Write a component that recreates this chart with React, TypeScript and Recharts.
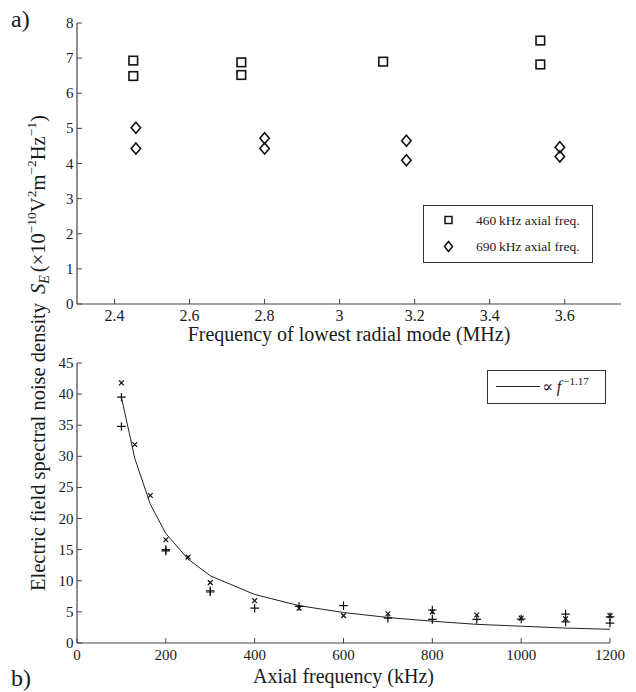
import React from "react";
import { Legend, Scatter, ScatterChart, XAxis, YAxis } from "recharts";

const FONT = '"Liberation Serif", "DejaVu Serif", serif';
const INK = "#1a1a1a";
const AXIS = "#444";

// panel a) noise vs lowest radial mode frequency (MHz), S_E in 1e-10 V^2 m^-2 Hz^-1
const squareFreq = [2.45, 2.45, 2.738, 2.738, 3.116, 3.535, 3.535];
const squareSE = [6.93, 6.49, 6.88, 6.52, 6.9, 7.5, 6.82];
const diamondFreq = [2.457, 2.457, 2.8, 2.8, 3.178, 3.178, 3.587, 3.587];
const diamondSE = [5.02, 4.43, 4.72, 4.43, 4.65, 4.09, 4.46, 4.2];
const radialTicks = [2.4, 2.6, 2.8, 3, 3.2, 3.4, 3.6];
const seTicksA = [0, 1, 2, 3, 4, 5, 6, 7, 8];

// panel b) noise vs axial frequency (kHz)
const crossFreq = [100, 130, 165, 200, 250, 300, 400, 500, 600, 700, 800, 900, 1000, 1100, 1200];
const crossSE = [41.8, 31.9, 23.7, 16.6, 13.8, 9.7, 6.8, 5.6, 4.4, 4.7, 5.0, 4.5, 4.0, 3.9, 4.4];
const plusFreq = [100, 100, 200, 200, 300, 300, 400, 500, 600, 700, 800, 800, 900, 1000, 1100, 1100, 1200, 1200];
const plusSE = [39.5, 34.8, 15.0, 14.8, 8.4, 8.2, 5.6, 5.9, 6.0, 4.0, 5.3, 3.8, 3.8, 3.85, 4.65, 3.4, 4.2, 3.2];
const fitFreq = [100, 130, 165, 200, 250, 300, 400, 500, 600, 700, 800, 900, 1000, 1100, 1200];
const fitSE = [39.5, 29.7, 22.3, 17.6, 13.5, 10.8, 7.8, 6.0, 4.9, 4.1, 3.5, 3.0, 2.7, 2.4, 2.2];
const axialTicks = [0, 200, 400, 600, 800, 1000, 1200];
const seTicksB = [0, 5, 10, 15, 20, 25, 30, 35, 40, 45];

const zip = (xs: number[], ys: number[]) => xs.map((x, i) => ({ x, y: ys[i] }));

const squares = zip(squareFreq, squareSE);
const diamonds = zip(diamondFreq, diamondSE);
const crosses = zip(crossFreq, crossSE);
const pluses = zip(plusFreq, plusSE);
const fit = zip(fitFreq, fitSE);

const fmt = (v: number) => String(v);
const serif = { fontFamily: FONT };

// ticks point inward, so draw them ourselves
function XTick(props: any) {
  const { x, y, payload, size = 15 } = props;
  return (
    <g>
      <line x1={x} y1={y} x2={x} y2={y - 5} stroke={AXIS} strokeWidth={1} />
      <text x={x} y={y + 17} textAnchor="middle" fontSize={size} fill={INK} style={serif}>
        {fmt(payload.value)}
      </text>
    </g>
  );
}

function YTick(props: any) {
  const { x, y, payload } = props;
  return (
    <g>
      <line x1={x} y1={y} x2={x + 5} y2={y} stroke={AXIS} strokeWidth={1} />
      <text x={x - 3.5} y={y + 5} textAnchor="end" fontSize={15} fill={INK} style={serif}>
        {fmt(payload.value)}
      </text>
    </g>
  );
}

const Square = ({ cx, cy }: any) => (
  <rect x={cx - 4.3} y={cy - 4.3} width={8.6} height={8.6} fill="none" stroke="#111" strokeWidth={1.6} />
);
const Diamond = ({ cx, cy }: any) => (
  <path
    d={`M${cx},${cy - 5.5}L${cx + 4.7},${cy}L${cx},${cy + 5.5}L${cx - 4.7},${cy}Z`}
    fill="none"
    stroke="#111"
    strokeWidth={1.6}
  />
);
const Cross = ({ cx, cy }: any) => (
  <path d={`M${cx - 2.4},${cy - 2.4}L${cx + 2.4},${cy + 2.4}M${cx - 2.4},${cy + 2.4}L${cx + 2.4},${cy - 2.4}`} stroke="#111" strokeWidth={1.2} />
);
const Plus = ({ cx, cy }: any) => (
  <path d={`M${cx - 4.3},${cy}L${cx + 4.3},${cy}M${cx},${cy - 4.3}L${cx},${cy + 4.3}`} stroke="#111" strokeWidth={1.2} />
);
const Nothing = () => <g />;

function LegendA() {
  return (
    <div style={{ width: 170, height: 58, border: "1.3px solid #333", boxSizing: "border-box", background: "#fff" }}>
      <svg width={168} height={56} style={{ display: "block" }}>
        <rect x={21} y={10.5} width={7} height={7} fill="none" stroke="#111" strokeWidth={1.5} />
        <path d="M24.5,35.5L28.5,40.5L24.5,45.5L20.5,40.5Z" fill="none" stroke="#111" strokeWidth={1.5} />
        <text x={52} y={18.5} fontSize={13.5} fill={INK} style={serif}>
          460{"\u2009"}kHz axial freq.
        </text>
        <text x={52} y={45} fontSize={13.5} fill={INK} style={serif}>
          690{"\u2009"}kHz axial freq.
        </text>
      </svg>
    </div>
  );
}

function LegendB() {
  return (
    <div style={{ width: 119, height: 34, border: "1.3px solid #333", boxSizing: "border-box", background: "#fff" }}>
      <svg width={117} height={32} style={{ display: "block" }}>
        <line x1={8} y1={15.5} x2={52} y2={15.5} stroke="#222" strokeWidth={1} />
        <text x={54} y={21} fontSize={16} fill={INK} style={serif}>
          ∝
          <tspan dx={4} fontStyle="italic">f</tspan>
          <tspan fontSize={11} dy={-7} dx={2}>−1.17</tspan>
        </text>
      </svg>
    </div>
  );
}

const labelStyle = { fill: INK, fontSize: 20, fontFamily: FONT, style: serif };

export default function App() {
  return (
    <div style={{ position: "absolute", left: 0, top: 0, width: 636, height: 692, background: "#fff", fontFamily: FONT }}>
      <div style={{ position: "absolute", left: 0, top: 0 }}>
        <ScatterChart width={636} height={350} margin={{ top: 23, right: 15, bottom: 0, left: 37 }}>
          <XAxis
            type="number"
            dataKey="x"
            domain={[2.3, 3.75]}
            ticks={radialTicks}
            interval={0}
            height={46}
            tickSize={0}
            tickMargin={0}
            tickLine={false}
            tick={<XTick size={16} />}
            axisLine={{ stroke: AXIS, strokeWidth: 1.2 }}
            label={{ value: "Frequency of lowest radial mode (MHz)", position: "insideBottom", offset: 9, ...labelStyle }}
          />
          <YAxis
            type="number"
            dataKey="y"
            domain={[0, 8]}
            ticks={seTicksA}
            interval={0}
            width={40}
            tickSize={0}
            tickMargin={0}
            tickLine={false}
            tick={<YTick />}
            axisLine={{ stroke: AXIS, strokeWidth: 1.2 }}
          />
          <Scatter name="460 kHz axial freq." data={squares} shape={Square} isAnimationActive={false} />
          <Scatter name="690 kHz axial freq." data={diamonds} shape={Diamond} isAnimationActive={false} />
          <Legend
            layout="vertical"
            align="center"
            verticalAlign="middle"
            content={() => <LegendA />}
            wrapperStyle={{ left: 423, top: 205, width: 170, height: 58 }}
          />
        </ScatterChart>
      </div>
      <div style={{ position: "absolute", left: 0, top: 350 }}>
        <ScatterChart width={636} height={342} margin={{ top: 13, right: 26, bottom: 0, left: 37 }}>
          <XAxis
            type="number"
            dataKey="x"
            domain={[0, 1200]}
            ticks={axialTicks}
            interval={0}
            height={49}
            tickSize={0}
            tickMargin={0}
            tickLine={false}
            tick={<XTick size={15} />}
            axisLine={{ stroke: AXIS, strokeWidth: 1.2 }}
            label={{ value: "Axial frequency (kHz)", position: "insideBottom", offset: 9, ...labelStyle }}
          />
          <YAxis
            type="number"
            dataKey="y"
            domain={[0, 45]}
            ticks={seTicksB}
            interval={0}
            width={40}
            tickSize={0}
            tickMargin={0}
            tickLine={false}
            tick={<YTick />}
            axisLine={{ stroke: AXIS, strokeWidth: 1.2 }}
          />
          <Scatter
            name="fit"
            data={fit}
            line={{ stroke: "#222", strokeWidth: 1 }}
            shape={Nothing}
            isAnimationActive={false}
          />
          <Scatter name="x" data={crosses} shape={Cross} isAnimationActive={false} />
          <Scatter name="+" data={pluses} shape={Plus} isAnimationActive={false} />
          <Legend
            layout="vertical"
            align="center"
            verticalAlign="middle"
            content={() => <LegendB />}
            wrapperStyle={{ left: 487, top: 19.5, width: 119, height: 34 }}
          />
        </ScatterChart>
      </div>
      <svg width={636} height={692} style={{ position: "absolute", left: 0, top: 0, pointerEvents: "none" }}>
        <text x={11} y={27} fontSize={24} fill={INK} style={serif}>a)</text>
        <text x={11} y={686} fontSize={24} fill={INK} style={serif}>b)</text>
        <text transform="translate(45,591) rotate(-90)" x={0} y={0} textAnchor="start" fontSize={20.5} fill={INK} style={serif}>
          Electric field spectral noise density
          <tspan dx={9} fontStyle="italic">S</tspan>
          <tspan fontStyle="italic" fontSize={14} dy={4}>E</tspan>
          <tspan dy={-4} dx={3}>(×10</tspan>
          <tspan fontSize={13.5} dy={-9}>−10</tspan>
          <tspan dy={9}>V</tspan>
          <tspan fontSize={13.5} dy={-9}>2</tspan>
          <tspan dy={9}>m</tspan>
          <tspan fontSize={13.5} dy={-9}>−2</tspan>
          <tspan dy={9}>Hz</tspan>
          <tspan fontSize={13.5} dy={-9}>−1</tspan>
          <tspan dy={9}>)</tspan>
        </text>
      </svg>
    </div>
  );
}
